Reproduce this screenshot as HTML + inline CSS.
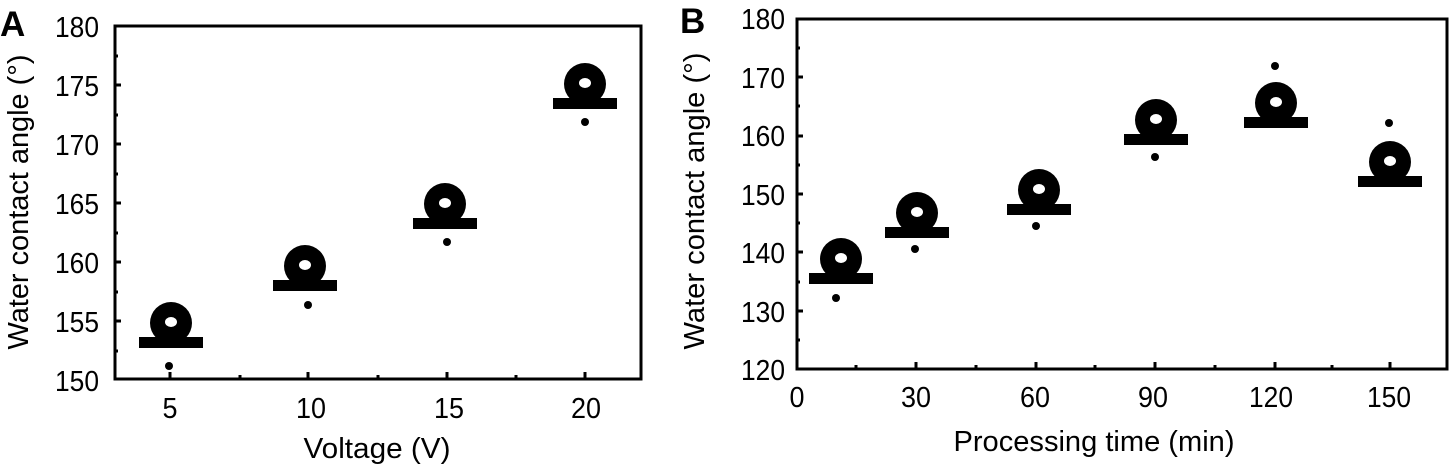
<!DOCTYPE html>
<html><head><style>
html,body{margin:0;padding:0;background:#fff;}
svg{display:block;}
text{font-family:"Liberation Sans",sans-serif;fill:#000;}
</style></head><body>
<svg width="1450" height="467" viewBox="0 0 1450 467" xmlns="http://www.w3.org/2000/svg">
<defs>
<g id="drop">
  <rect x="-32" y="14" width="64" height="11" fill="#000"/>
  <ellipse cx="0" cy="0" rx="21" ry="21" fill="#000"/>
  <path d="M-14 14 Q0 6 14 14 L14 16 L-14 16 Z" fill="#000"/>
  <ellipse cx="0" cy="-1" rx="6" ry="5" fill="#fff"/>
</g>
</defs>
<!-- Panel A -->
<text x="0" y="36" font-size="35" font-weight="bold">A</text>
<rect x="115" y="26" width="526" height="353" fill="none" stroke="#000" stroke-width="3"/>
<g font-size="29" text-anchor="end" lengthAdjust="spacingAndGlyphs">
<text x="99" y="37" textLength="44" lengthAdjust="spacingAndGlyphs">180</text>
<text x="99" y="96" textLength="44" lengthAdjust="spacingAndGlyphs">175</text>
<text x="99" y="155" textLength="44" lengthAdjust="spacingAndGlyphs">170</text>
<text x="99" y="214" textLength="44" lengthAdjust="spacingAndGlyphs">165</text>
<text x="99" y="273" textLength="44" lengthAdjust="spacingAndGlyphs">160</text>
<text x="99" y="332" textLength="44" lengthAdjust="spacingAndGlyphs">155</text>
<text x="99" y="391" textLength="44" lengthAdjust="spacingAndGlyphs">150</text>
</g>
<g stroke="#000" stroke-width="3">
<line x1="115" y1="85" x2="121" y2="85"/><line x1="115" y1="144" x2="121" y2="144"/>
<line x1="115" y1="203" x2="121" y2="203"/><line x1="115" y1="262" x2="121" y2="262"/>
<line x1="115" y1="321" x2="121" y2="321"/>
<line x1="115" y1="56" x2="118" y2="56"/><line x1="115" y1="115" x2="118" y2="115"/>
<line x1="115" y1="174" x2="118" y2="174"/><line x1="115" y1="233" x2="118" y2="233"/>
<line x1="115" y1="292" x2="118" y2="292"/><line x1="115" y1="351" x2="118" y2="351"/>
<line x1="170" y1="379" x2="170" y2="372"/><line x1="308" y1="379" x2="308" y2="372"/>
<line x1="447" y1="379" x2="447" y2="372"/><line x1="585" y1="379" x2="585" y2="372"/>
<line x1="240" y1="379" x2="240" y2="375"/><line x1="378" y1="379" x2="378" y2="375"/>
<line x1="516" y1="379" x2="516" y2="375"/>
</g>
<g font-size="29" text-anchor="middle">
<text x="170" y="418" textLength="15" lengthAdjust="spacingAndGlyphs">5</text>
<text x="311" y="418" textLength="30" lengthAdjust="spacingAndGlyphs">10</text>
<text x="449" y="418" textLength="30" lengthAdjust="spacingAndGlyphs">15</text>
<text x="586" y="418" textLength="30" lengthAdjust="spacingAndGlyphs">20</text>
<text x="377" y="458" textLength="147" lengthAdjust="spacingAndGlyphs">Voltage (V)</text>
</g>
<text transform="translate(28,202) rotate(-90)" font-size="29" text-anchor="middle" textLength="295" lengthAdjust="spacingAndGlyphs">Water contact angle (°)</text>
<use href="#drop" x="171" y="323"/><circle cx="169" cy="366" r="4"/>
<use href="#drop" x="305" y="266"/><circle cx="308" cy="305" r="4"/>
<use href="#drop" x="445" y="204"/><circle cx="447" cy="242" r="4"/>
<use href="#drop" x="585" y="84"/><circle cx="585" cy="122" r="4"/>
<!-- Panel B -->
<text x="680" y="33" font-size="35" font-weight="bold">B</text>
<rect x="797" y="19" width="650" height="350" fill="none" stroke="#000" stroke-width="3"/>
<g font-size="29" text-anchor="end">
<text x="785" y="29" textLength="44" lengthAdjust="spacingAndGlyphs">180</text>
<text x="785" y="88" textLength="44" lengthAdjust="spacingAndGlyphs">170</text>
<text x="785" y="146" textLength="44" lengthAdjust="spacingAndGlyphs">160</text>
<text x="785" y="205" textLength="44" lengthAdjust="spacingAndGlyphs">150</text>
<text x="785" y="263" textLength="44" lengthAdjust="spacingAndGlyphs">140</text>
<text x="785" y="322" textLength="44" lengthAdjust="spacingAndGlyphs">130</text>
<text x="785" y="380" textLength="44" lengthAdjust="spacingAndGlyphs">120</text>
</g>
<g stroke="#000" stroke-width="3">
<line x1="797" y1="77" x2="803" y2="77"/><line x1="797" y1="136" x2="803" y2="136"/>
<line x1="797" y1="194" x2="803" y2="194"/><line x1="797" y1="252" x2="803" y2="252"/>
<line x1="797" y1="311" x2="803" y2="311"/>
<line x1="797" y1="48" x2="800" y2="48"/><line x1="797" y1="106" x2="800" y2="106"/>
<line x1="797" y1="165" x2="800" y2="165"/><line x1="797" y1="223" x2="800" y2="223"/>
<line x1="797" y1="282" x2="800" y2="282"/><line x1="797" y1="340" x2="800" y2="340"/>
<line x1="916" y1="369" x2="916" y2="362"/><line x1="1036" y1="369" x2="1036" y2="362"/>
<line x1="1155" y1="369" x2="1155" y2="362"/><line x1="1275" y1="369" x2="1275" y2="362"/>
<line x1="1390" y1="369" x2="1390" y2="362"/>
<line x1="856" y1="369" x2="856" y2="365"/><line x1="976" y1="369" x2="976" y2="365"/>
<line x1="1095" y1="369" x2="1095" y2="365"/><line x1="1215" y1="369" x2="1215" y2="365"/>
<line x1="1332" y1="369" x2="1332" y2="365"/>
</g>
<g font-size="29" text-anchor="middle">
<text x="797" y="407" textLength="15" lengthAdjust="spacingAndGlyphs">0</text>
<text x="916" y="407" textLength="30" lengthAdjust="spacingAndGlyphs">30</text>
<text x="1035" y="407" textLength="30" lengthAdjust="spacingAndGlyphs">60</text>
<text x="1153" y="407" textLength="30" lengthAdjust="spacingAndGlyphs">90</text>
<text x="1271" y="407" textLength="44" lengthAdjust="spacingAndGlyphs">120</text>
<text x="1389" y="407" textLength="44" lengthAdjust="spacingAndGlyphs">150</text>
<text x="1094" y="451" textLength="281" lengthAdjust="spacingAndGlyphs">Processing time (min)</text>
</g>
<text transform="translate(704,201) rotate(-90)" font-size="29" text-anchor="middle" textLength="297" lengthAdjust="spacingAndGlyphs">Water contact angle (°)</text>
<use href="#drop" x="841" y="259"/><circle cx="836" cy="298" r="4"/>
<use href="#drop" x="917" y="213"/><circle cx="915" cy="249" r="4"/>
<use href="#drop" x="1039" y="190"/><circle cx="1036" cy="226" r="4"/>
<use href="#drop" x="1156" y="120"/><circle cx="1155" cy="157" r="4"/>
<use href="#drop" x="1276" y="103"/><circle cx="1275" cy="66" r="4"/>
<use href="#drop" x="1390" y="162"/><circle cx="1389" cy="123" r="4"/>
</svg>
</body></html>
